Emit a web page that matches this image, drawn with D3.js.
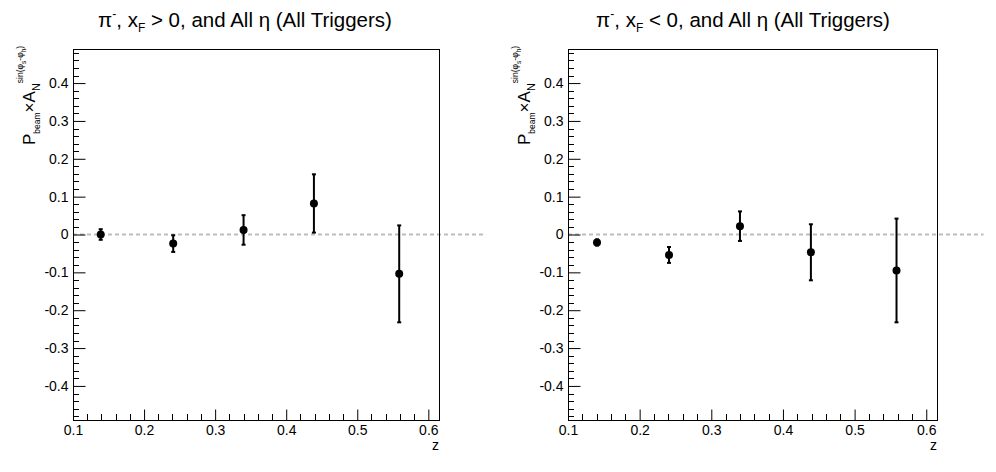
<!DOCTYPE html>
<html><head><meta charset="utf-8">
<script src="https://cdn.jsdelivr.net/npm/d3@7"></script>
<style>
body{margin:0;background:#fff;}
svg{display:block;font-family:"Liberation Sans",Arial,Helvetica,sans-serif;}
</style></head>
<body>
<svg id="c" width="996" height="472"></svg>
<script>
// ---- data ----
const zLeft  = [0.139, 0.241, 0.340, 0.439, 0.559];
const aLeft  = [0.000, -0.024, 0.012, 0.082, -0.104];
const eLeft  = [0.014, 0.022, 0.039, 0.077, 0.128];
const zRight = [0.1405, 0.241, 0.340, 0.439, 0.5585];
const aRight = [-0.021, -0.054, 0.022, -0.047, -0.095];
const eRight = [0.008, 0.021, 0.039, 0.074, 0.137];
const xDomain = [0.1, 0.615];
const yDomain = [-0.49, 0.49];
const yTickValues = [-0.4, -0.3, -0.2, -0.1, 0, 0.1, 0.2, 0.3, 0.4];
const xTickValues = [0.1, 0.2, 0.3, 0.4, 0.5, 0.6];
const zeroLineRange = [0.1, 0.68];
const titleLeft = {sign: "-", cmp: ">"};
const titleRight = {sign: "-", cmp: "<"};

const svg = d3.select("#c");

function fmt(d){ if (Math.abs(d) < 1e-9) return "0"; return (d<0?"-":"") + Math.abs(d).toFixed(1); }

function panel(cfg, zs, as, es, t){
  const g = svg.append("g");
  const x = d3.scaleLinear().domain(xDomain).range([cfg.x0, cfg.x1]);
  const y = d3.scaleLinear().domain(yDomain).range([cfg.y1, cfg.y0]);

  // zero dashed line
  g.append("line")
    .attr("x1", x(zeroLineRange[0])).attr("x2", Math.min(x(zeroLineRange[1]), cfg.clip))
    .attr("y1", y(0)).attr("y2", y(0))
    .attr("stroke", "#bdbdbd").attr("stroke-width", 2).attr("stroke-dasharray", "4,3");

  // frame
  g.append("rect").attr("x", cfg.x0 + 0.5).attr("y", cfg.y0 + 0.5)
    .attr("width", cfg.x1 - cfg.x0).attr("height", cfg.y1 - cfg.y0)
    .attr("fill", "none").attr("stroke", "#000").attr("stroke-width", 1);

  // y minor ticks
  const yMinor = d3.range(-48, 49, 2).map(v => v/100).filter(v => Math.round(v*100) % 10 !== 0);
  g.selectAll(null).data(yMinor).enter().append("line")
    .attr("x1", cfg.x0).attr("x2", cfg.x0 + 6)
    .attr("y1", d => Math.round(y(d)) + 0.5).attr("y2", d => Math.round(y(d)) + 0.5)
    .attr("stroke", "#000");
  const yAxis = d3.axisLeft(y).tickValues(yTickValues).tickSize(-12).tickPadding(5).tickFormat(fmt);
  const ya = g.append("g").attr("transform", `translate(${cfg.x0 + 0.5},0)`).call(yAxis);
  ya.select(".domain").remove();
  ya.selectAll("text").attr("font-size", 14).attr("font-family", "Liberation Sans, Arial, sans-serif").attr("fill", "#000");

  // x minor ticks
  const xMinor = d3.range(12, 62, 2).map(v => v/100).filter(v => Math.round(v*100) % 10 !== 0 && v <= xDomain[1]);
  g.selectAll(null).data(xMinor).enter().append("line")
    .attr("x1", d => Math.round(x(d)) + 0.5).attr("x2", d => Math.round(x(d)) + 0.5)
    .attr("y1", cfg.y1).attr("y2", cfg.y1 - 6)
    .attr("stroke", "#000");
  const xAxis = d3.axisBottom(x).tickValues(xTickValues).tickSize(-11).tickPadding(5).tickFormat(d => d.toFixed(1));
  const xa = g.append("g").attr("transform", `translate(0,${cfg.y1 + 0.5})`).call(xAxis);
  xa.select(".domain").remove();
  xa.selectAll("text").attr("font-size", 14).attr("font-family", "Liberation Sans, Arial, sans-serif").attr("fill", "#000");

  // x title
  g.append("text").attr("x", cfg.x1).attr("y", cfg.y1 + 30).attr("text-anchor", "end")
    .attr("font-size", 14).text("z");

  // y title
  const yt = g.append("text").attr("transform", `translate(${cfg.x0 - 38},${cfg.y0 + 96}) rotate(-90)`)
    .attr("text-anchor", "start").attr("font-size", 17);
  yt.append("tspan").text("P");
  yt.append("tspan").attr("font-size", 8.5).attr("dy", 5).text("beam");
  yt.append("tspan").attr("dy", -5).text("×A");
  yt.append("tspan").attr("font-size", 11).attr("dy", 5).text("N");
  yt.append("tspan").attr("font-size", 8.5).attr("dy", -17).text("sin(φ");
  yt.append("tspan").attr("font-size", 6.5).attr("dy", 3).text("s");
  yt.append("tspan").attr("font-size", 8.5).attr("dy", -3).text("-φ");
  yt.append("tspan").attr("font-size", 6.5).attr("dy", 3).text("h");
  yt.append("tspan").attr("font-size", 8.5).attr("dy", -3).text(")");

  // title
  const tt = g.append("text").attr("x", cfg.tx).attr("y", 27).attr("text-anchor", "middle").attr("font-size", 20.5);
  tt.append("tspan").text("π");
  tt.append("tspan").attr("font-size", 12).attr("dy", -9).text(t.sign);
  tt.append("tspan").attr("dy", 9).text(", x");
  tt.append("tspan").attr("font-size", 12).attr("dy", 5).text("F");
  tt.append("tspan").attr("dy", -5).text(` ${t.cmp} 0, and All η (All Triggers)`);

  // data
  const pts = zs.map((z, i) => ({z, a: as[i], e: es[i]}));
  const pg = g.append("g");
  pg.selectAll(null).data(pts).enter().append("line")
    .attr("x1", d => x(d.z)).attr("x2", d => x(d.z))
    .attr("y1", d => y(d.a + d.e)).attr("y2", d => y(d.a - d.e))
    .attr("stroke", "#000").attr("stroke-width", 2);
  ["+", "-"].forEach(s => {
    pg.selectAll(null).data(pts).enter().append("line")
      .attr("x1", d => x(d.z) - 2).attr("x2", d => x(d.z) + 2)
      .attr("y1", d => y(s === "+" ? d.a + d.e : d.a - d.e))
      .attr("y2", d => y(s === "+" ? d.a + d.e : d.a - d.e))
      .attr("stroke", "#000").attr("stroke-width", 2);
  });
  pg.selectAll(null).data(pts).enter().append("circle")
    .attr("cx", d => x(d.z)).attr("cy", d => y(d.a)).attr("r", 4).attr("fill", "#000");
}

panel({x0: 73, x1: 439, y0: 49, y1: 420, tx: 245, clip: 485}, zLeft, aLeft, eLeft, titleLeft);
panel({x0: 568, x1: 937, y0: 49, y1: 420, tx: 743, clip: 985}, zRight, aRight, eRight, titleRight);
</script>
</body></html>
